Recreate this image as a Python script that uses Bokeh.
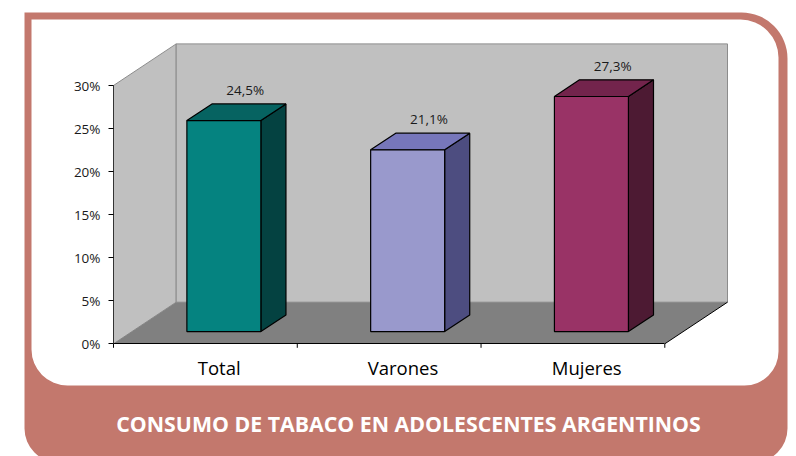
from bokeh.plotting import figure
from bokeh.models import Range1d, LinearAxis, FixedTicker, PrintfTickFormatter, BoxAnnotation
from bokeh.core.properties import value
from bokeh.embed import file_html
from bokeh.resources import INLINE

# ---- data ----
categories = ["Total", "Varones", "Mujeres"]
values = [24.5, 21.1, 27.3]
value_labels = ["24,5%", "21,1%", "27,3%"]
front_colors = ["#058380", "#9999CC", "#993366"]
top_colors = ["#066361", "#7777BB", "#73244C"]
side_colors = ["#044241", "#4D4D80", "#4D1A33"]
y_ticks = [0, 5, 10, 15, 20, 25, 30]
title_text = "CONSUMO DE TABACO EN ADOLESCENTES ARGENTINOS"

# ---- geometry (screen mapping) ----
W, H = 796, 456
PX_X0, PX_PER_CAT = 113.0, 183.77
PX_Y0, PX_PER_PCT = 343.3, 8.61
YMAX = 30

def X(px):
    return (px - PX_X0) / PX_PER_CAT

def Y(py):
    return (PX_Y0 - py) / PX_PER_PCT

DX, DY = 62.7 / PX_PER_CAT, 41.6 / PX_PER_PCT   # full depth of the 3D box
F0, FB = 0.295, 0.40                           # bar front depth, bar depth (fractions)
BW = 74 / PX_PER_CAT                           # bar front width

p = figure(width=W, height=H, x_range=Range1d(X(0), X(W)), y_range=Range1d(Y(H), Y(0)),
           output_backend="svg", toolbar_location=None, min_border=0,
           x_axis_location=None, y_axis_location=None, outline_line_color=None,
           background_fill_color="white", border_fill_color="white")
p.xgrid.visible = False
p.ygrid.visible = False

salmon = "#C3786D"
outer = BoxAnnotation(left=X(24), right=X(787), top=Y(12), bottom=Y(462),
                      fill_color=salmon, fill_alpha=1, line_color=None,
                      border_radius=(0, 46, 34, 34), level="underlay")
inner = BoxAnnotation(left=X(31), right=X(778), top=Y(19), bottom=Y(385),
                      fill_color="white", fill_alpha=1, line_color=None,
                      border_radius=(0, 38, 34, 36), level="underlay")
p.add_layout(outer)
p.add_layout(inner)

# walls and floor
n = len(categories)
p.patch([0, 0, DX, DX], [0, YMAX, YMAX + DY, DY], fill_color="#C0C0C0", line_color="#8C8C8C", line_width=1)
p.patch([DX, DX, n + DX, n + DX], [DY, YMAX + DY, YMAX + DY, DY], fill_color="#C0C0C0", line_color="#8C8C8C", line_width=1)
p.patch([0, DX, n + DX, n], [0, DY, DY, 0], fill_color="#808080", line_color=None)
p.line([n, n + DX], [0, DY], line_color="black", line_width=1)

# bars
fronts_x, fronts_y, tops_x, tops_y, sides_x, sides_y = [], [], [], [], [], []
bdx, bdy = FB * DX, FB * DY
for i, v in enumerate(values):
    cx = i + 0.5 + F0 * DX
    xl, xr = cx - BW / 2, cx + BW / 2
    yb = F0 * DY
    yt = v + F0 * DY
    fronts_x.append([xl, xr, xr, xl]); fronts_y.append([yb, yb, yt, yt])
    tops_x.append([xl, xr, xr + bdx, xl + bdx]); tops_y.append([yt, yt, yt + bdy, yt + bdy])
    sides_x.append([xr, xr + bdx, xr + bdx, xr]); sides_y.append([yb, yb + bdy, yt + bdy, yt])

p.patches(sides_x, sides_y, fill_color=side_colors, line_color="black", line_width=1.2)
p.patches(tops_x, tops_y, fill_color=top_colors, line_color="black", line_width=1.2)
p.patches(fronts_x, fronts_y, fill_color=front_colors, line_color="black", line_width=1.2)

# value labels
lab_x = [i + 0.5 + F0 * DX + bdx * 0.85 for i in range(n)]
lab_y = [v + F0 * DY + bdy for v in values]
p.text(lab_x, lab_y, text=value_labels, text_align="center", text_baseline="middle",
       y_offset=-14, text_font=value("Open Sans"), text_font_size="13.5px", text_color="#1a1a1a")

# y axis
yaxis = LinearAxis(fixed_location=0, bounds=(0, YMAX), ticker=FixedTicker(ticks=y_ticks),
                   formatter=PrintfTickFormatter(format="%d%%"))
yaxis.axis_line_color = "#333333"
yaxis.major_tick_line_color = "black"
yaxis.major_tick_out = 5
yaxis.major_tick_in = 0
yaxis.minor_tick_line_color = None
yaxis.major_label_standoff = 8
yaxis.major_label_text_font = "Open Sans"
yaxis.major_label_text_font_size = "13.5px"
yaxis.major_label_text_color = "#1a1a1a"
p.add_layout(yaxis, "left")

# x axis: category labels (ticks hidden), boundary ticks drawn separately
cat_pos = [i + 0.575 for i in range(n)]
xaxis = LinearAxis(fixed_location=0, bounds=(0, n), ticker=FixedTicker(ticks=cat_pos),
                   major_label_overrides={pos: c for pos, c in zip(cat_pos, categories)})
xaxis.axis_line_color = "black"
xaxis.major_tick_line_color = None
xaxis.major_tick_out = 0
xaxis.major_tick_in = 0
xaxis.minor_tick_line_color = None
xaxis.major_label_standoff = 11
xaxis.major_label_text_font = "Open Sans"
xaxis.major_label_text_font_size = "18.5px"
xaxis.major_label_text_color = "black"
p.add_layout(xaxis, "below")

bounds_x = list(range(n + 1))
p.segment(x0=bounds_x, y0=[0] * (n + 1), x1=bounds_x, y1=[-4 / PX_PER_PCT] * (n + 1),
          line_color="black", line_width=1)

# title
p.text([X(408)], [Y(423)], text=[title_text], text_align="center", text_baseline="middle",
       text_font=value("Open Sans"), text_font_style="bold", text_font_size="21.3px", text_color="white")

open("out.html", "w").write(file_html(p, INLINE))
